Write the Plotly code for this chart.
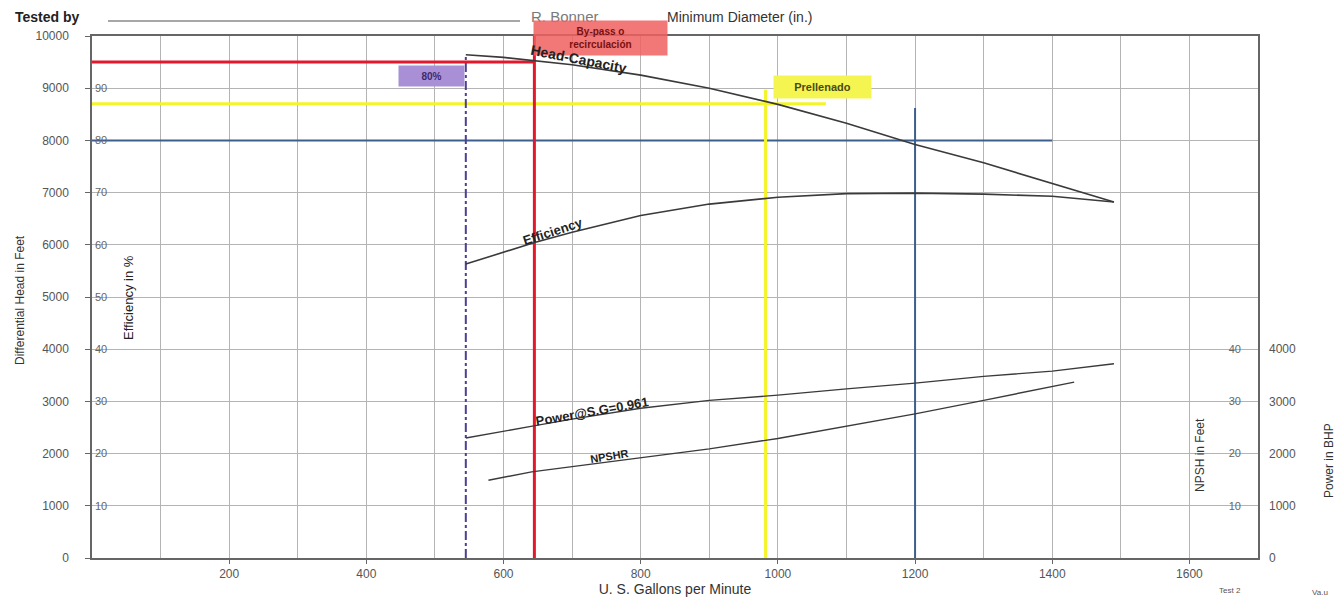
import plotly.graph_objects as go

# ---------------- data ----------------
gpm_head = [545, 600, 700, 800, 900, 1000, 1100, 1200, 1300, 1400, 1490]
head_ft = [9640, 9590, 9450, 9250, 9000, 8690, 8330, 7920, 7570, 7180, 6820]

gpm_eff = [545, 600, 644, 700, 800, 900, 1000, 1100, 1200, 1300, 1400, 1490]
eff_pct = [56.3, 58.6, 60.4, 62.4, 65.6, 67.8, 69.1, 69.8, 69.9, 69.7, 69.3, 68.2]

gpm_pow = [545, 600, 644, 700, 800, 900, 1000, 1100, 1200, 1300, 1400, 1490]
power_bhp = [2300, 2420, 2530, 2660, 2870, 3020, 3120, 3240, 3350, 3480, 3580, 3720]

gpm_npsh = [578, 641, 700, 800, 900, 1000, 1100, 1200, 1300, 1400, 1432]
npsh_ft = [14.9, 16.5, 17.5, 19.2, 20.9, 22.9, 25.2, 27.6, 30.2, 32.9, 33.7]

x_ticks = [0, 200, 400, 600, 800, 1000, 1200, 1400, 1600]
head_ticks = [0, 1000, 2000, 3000, 4000, 5000, 6000, 7000, 8000, 9000, 10000]
head_labels = [str(v) for v in head_ticks]
eff_ticks = [10, 20, 30, 40, 50, 60, 70, 80, 90]
npsh_ticks = [0, 10, 20, 30, 40]
power_ticks = [0, 1000, 2000, 3000, 4000]

# operating reference lines
bypass_gpm, bypass_head = 645, 9500
pct80_gpm, pct80_top = 545, 9640
prefill_gpm, prefill_head, prefill_hend, prefill_vtop = 982, 8700, 1070, 8970
design_gpm, design_head, design_hend, design_vtop = 1200, 8000, 1400, 8620

# ---------------- layout geometry ----------------
W, H = 1338, 598
ML, MR, MT, MB = 92, 80, 36, 40
PW, PH = W - ML - MR, H - MT - MB


def px(x):
    return (x - ML) / PW


def py(y):
    return (H - MB - y) / PH


FONT = "Liberation Sans, Arial, sans-serif"
CURVE = "#3a3a3a"
RED = "#e3182d"
YEL = "#f4f42a"
BLUE = "#3d5f8e"
PURP = "#4e3f92"

fig = go.Figure()

# reference lines
fig.add_trace(go.Scatter(x=[0, bypass_gpm], y=[bypass_head, bypass_head], mode="lines",
                         line=dict(color=RED, width=3), hoverinfo="skip"))
fig.add_trace(go.Scatter(x=[0, prefill_hend], y=[prefill_head, prefill_head], mode="lines",
                         line=dict(color=YEL, width=3), hoverinfo="skip"))
fig.add_trace(go.Scatter(x=[0, design_hend], y=[design_head, design_head], mode="lines",
                         line=dict(color=BLUE, width=2), hoverinfo="skip"))
fig.add_trace(go.Scatter(x=[bypass_gpm, bypass_gpm], y=[0, 10000], mode="lines",
                         line=dict(color=RED, width=3), hoverinfo="skip"))
fig.add_trace(go.Scatter(x=[prefill_gpm, prefill_gpm], y=[0, prefill_vtop], mode="lines",
                         line=dict(color=YEL, width=3), hoverinfo="skip"))
fig.add_trace(go.Scatter(x=[design_gpm, design_gpm], y=[0, design_vtop], mode="lines",
                         line=dict(color=BLUE, width=2), hoverinfo="skip"))
fig.add_trace(go.Scatter(x=[pct80_gpm, pct80_gpm], y=[0, pct80_top], mode="lines",
                         line=dict(color=PURP, width=2, dash="dashdot"), hoverinfo="skip"))

# pump curves
fig.add_trace(go.Scatter(x=gpm_head, y=head_ft, mode="lines", name="Head-Capacity",
                         line=dict(color=CURVE, width=1.6)))
fig.add_trace(go.Scatter(x=gpm_eff, y=eff_pct, mode="lines", name="Efficiency", yaxis="y2",
                         line=dict(color=CURVE, width=1.6)))
fig.add_trace(go.Scatter(x=gpm_npsh, y=npsh_ft, mode="lines", name="NPSHR", yaxis="y3",
                         line=dict(color=CURVE, width=1.4)))
fig.add_trace(go.Scatter(x=gpm_pow, y=power_bhp, mode="lines", name="Power", yaxis="y4",
                         line=dict(color=CURVE, width=1.4)))

GRID = "#b4b4b4"
TICKF = dict(family=FONT, size=12, color="#555555")

fig.update_layout(
    width=W, height=H,
    margin=dict(l=ML, r=MR, t=MT, b=MB, autoexpand=False),
    paper_bgcolor="white", plot_bgcolor="white",
    showlegend=False,
    font=dict(family=FONT),
    xaxis=dict(range=[0, 1700], tickvals=x_ticks, showgrid=True, gridcolor=GRID, gridwidth=1,
               minor=dict(dtick=100, tick0=0, showgrid=True, gridcolor=GRID, gridwidth=1),
               showline=True, linecolor="#666666", linewidth=1.5, mirror=True,
               ticks="outside", ticklen=4, tickcolor="#666666", tickfont=TICKF,
               zeroline=False, automargin=False,
               title=dict(text="U. S. Gallons per Minute", font=dict(size=14, color="#333333"),
                          standoff=4)),
    yaxis=dict(range=[0, 10000], tickvals=head_ticks, ticktext=head_labels, showgrid=True,
               gridcolor=GRID, automargin=False,
               showline=True, linecolor="#666666", linewidth=1.5, mirror=True,
               ticks="outside", ticklen=5, tickcolor="#666666", tickfont=TICKF,
               ticklabelstandoff=14, zeroline=False),
    yaxis2=dict(range=[0, 100], overlaying="y", anchor="x", side="left", tickvals=eff_ticks,
                ticklabelposition="inside", showgrid=False, zeroline=False, showline=False,
                automargin=False,
                tickfont=dict(family=FONT, size=11, color="#666666")),
    yaxis3=dict(range=[0, 100], overlaying="y", anchor="x", side="right", tickvals=npsh_ticks,
                ticklabelposition="inside", showgrid=False, zeroline=False, showline=False,
                ticklabelstandoff=14, automargin=False,
                tickfont=dict(family=FONT, size=11, color="#666666")),
    yaxis4=dict(range=[0, 10000], overlaying="y", anchor="x", side="right", tickvals=power_ticks,
                showgrid=False, zeroline=False, showline=False, ticklabelstandoff=10,
                automargin=False, tickfont=TICKF),
)


def note(text, x, y, size, color, angle=0, xanchor="center", **kw):
    return dict(text=text, xref="paper", yref="paper", x=px(x), y=py(y), xanchor=xanchor,
                yanchor="middle", textangle=angle, showarrow=False,
                font=dict(size=size, color=color), **kw)


ann = []
# header
ann.append(note("<b>Tested by</b>", 13, 17, 14, "#222222", xanchor="left"))
ann.append(note("R. Bonner", 565, 17, 15, "#7a7a7a"))
ann.append(note("Minimum Diameter (in.)", 665, 17, 14, "#333333", xanchor="left"))
# axis titles
ann.append(note("Differential Head in Feet", 20, 300, 12, "#333333", angle=-90))
ann.append(note("Efficiency in %", 128, 298, 13, "#222222", angle=-90))
ann.append(note("NPSH in Feet", 1200, 455, 12, "#333333", angle=-90))
ann.append(note("Power in BHP", 1329, 460, 12, "#333333", angle=-90))
ann.append(note("Test 2", 1230, 590, 8, "#555555"))
ann.append(note("Va.u", 1320, 592, 8, "#555555"))
# highlighted boxes
ann.append(note("<b>By-pass o<br>recirculación</b>", 600, 38, 10, "#7a1010",
                width=131, height=32, borderpad=1, bgcolor="rgba(240,95,95,0.85)"))
ann.append(note("<b>80%</b>", 431, 76, 10, "#3c2a6e",
                width=63, height=18, bgcolor="#a88fd6"))
ann.append(note("<b>Prellenado</b>", 822, 87, 11, "#4a4a10",
                width=95, height=20, bgcolor="#f5f552"))
# curve labels (drawn over the boxes)
ann.append(dict(text="<b>Head-Capacity</b>", x=710, y=9560, textangle=11, showarrow=False,
                font=dict(size=14, color="#222222")))
ann.append(dict(text="<b>Efficiency</b>", x=672, y=6250, textangle=-18, showarrow=False,
                font=dict(size=13, color="#222222")))
ann.append(dict(text="<b>Power@S.G=0.961</b>", x=729, y=2800, textangle=-10, showarrow=False,
                font=dict(size=13, color="#222222")))
ann.append(dict(text="<b>NPSHR</b>", x=755, y=1960, textangle=-9, showarrow=False,
                font=dict(size=11, color="#222222")))
fig.update_layout(annotations=ann)

# header rule line
fig.add_shape(type="line", xref="paper", yref="paper", x0=px(108), x1=px(520), y0=py(21), y1=py(21),
              line=dict(color="#8a8a8a", width=1.5))

# remove the default page margin so the 1338x598 figure fills the window exactly
fig.write_html("out.html", config={"displayModeBar": False},
               post_script="document.body.style.margin='0px';document.body.style.overflow='hidden';")
